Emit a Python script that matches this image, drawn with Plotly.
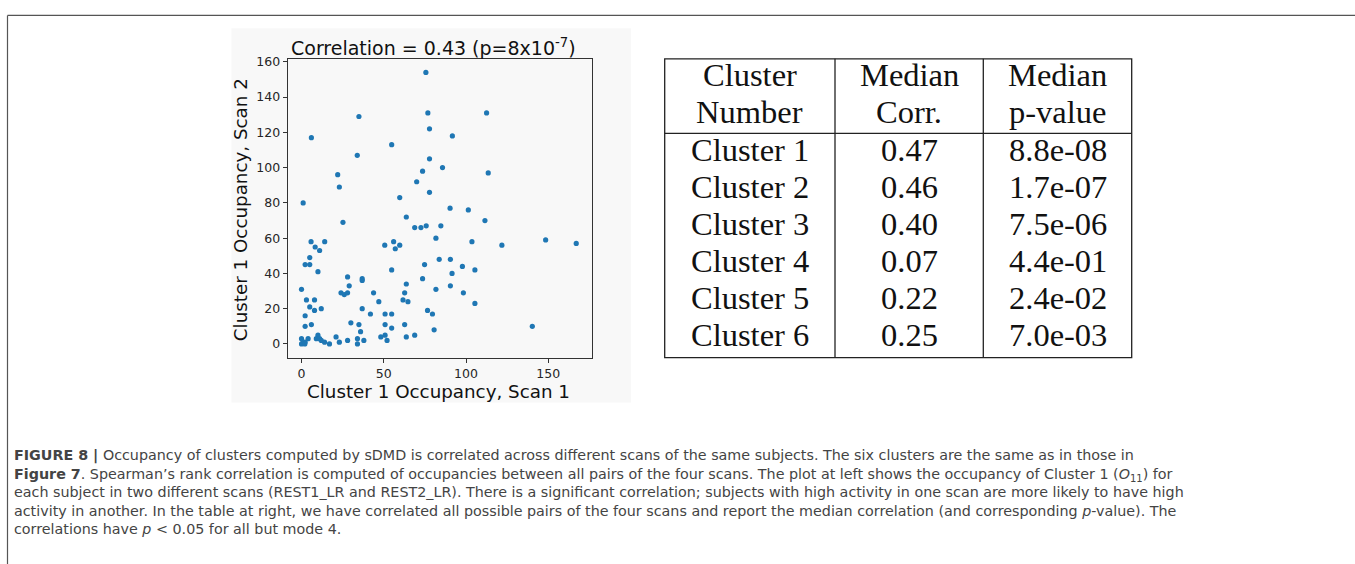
import plotly.graph_objects as go

W, H = 1355, 564

# ---- scatter data (Cluster 1 occupancy, scan 1 vs scan 2) ----
scan1 = [75.6, 76.8, 112.5, 34.9, 77.8, 6, 91.7, 54.8, 33.9, 77.8, 85.7, 22, 73.6, 113.5,
         23, 70, 77.8, 1, 59.7, 90.3, 101.4, 25.2, 63.7, 111.5, 68.8, 72.6, 75.8, 84.7,
         5.8, 14.1, 81.7, 103.6, 148.4, 167, 121.8, 50.6, 56, 57, 59.7, 8.3, 11, 5, 2.2, 5,
         10, 54.8, 74.8, 83.7, 90.5, 97.8, 91.5, 105.4, 28, 36.9, 36.9, 73.6, 0, 29, 63.7,
         90.5, 81.7, 24, 26, 28, 43.8, 62.7, 98.4, 3, 7.9, 47, 61.7, 64.7, 105.4, 5, 12,
         7.9, 36.9, 76.6, 79.6, 2.2, 41.9, 50.8, 54.8, 6, 30, 34.9, 50.8, 62.7, 140.3, 2.2,
         54.8, 80.6, 35.9, 50.8, 68.8, 63.7, 48.2, 21, 10, 9, 11, 4, 0, 34, 52, 37.9, 28,
         12, 14, 23, 1, 2.2, 17, 34, 0, 2]
scan2 = [154, 131, 131, 129, 122, 117, 118, 113, 107, 105, 100, 96, 98, 97,
         89, 92, 86, 80, 83, 77, 76, 69, 72, 70, 66, 66, 67, 67,
         58, 58, 60, 58, 59, 57, 56, 56, 58, 54, 56, 55, 53, 49, 45, 45,
         41, 42, 45, 48, 48, 44, 40, 42, 38, 37, 36, 37, 31, 33, 34,
         33, 31, 29, 28, 29, 29, 29, 29, 25, 25, 24, 25, 24, 23, 21, 20,
         19, 20, 19, 17, 16, 17, 17, 17, 11, 12, 11, 11, 11, 10, 10,
         9, 8, 7, 5, 5, 4, 4, 4, 5, 3, 3, 3, 3, 3, 2, 2, 2,
         2, 1, 1, 1, 1, 0, 0, 0, 0]

x_ticks = [0, 50, 100, 150]
y_ticks = [0, 20, 40, 60, 80, 100, 120, 140, 160]

# ---- table data ----
table_header = [["Cluster", "Number"], ["Median", "Corr."], ["Median", "p-value"]]
clusters = ["Cluster 1", "Cluster 2", "Cluster 3", "Cluster 4", "Cluster 5", "Cluster 6"]
median_corr = ["0.47", "0.46", "0.40", "0.07", "0.22", "0.25"]
median_p = ["8.8e-08", "1.7e-07", "7.5e-06", "4.4e-01", "2.4e-02", "7.0e-03"]

caption_lines = [
    "<b>FIGURE 8 |</b> Occupancy of clusters computed by sDMD is correlated across different scans of the same subjects. The six clusters are the same as in those in",
    "<b>Figure 7</b>. Spearman\u2019s rank correlation is computed of occupancies between all pairs of the four scans. The plot at left shows the occupancy of Cluster 1 (<i>O</i><sub>11</sub>) for",
    "each subject in two different scans (REST1_LR and REST2_LR). There is a significant correlation; subjects with high activity in one scan are more likely to have high",
    "activity in another. In the table at right, we have correlated all possible pairs of the four scans and report the median correlation (and corresponding <i>p</i>-value). The",
    "correlations have <i>p</i> &lt; 0.05 for all but mode 4.",
]


def px(x):
    return x / W


def py(y):
    return 1 - y / H


fig = go.Figure()
fig.add_trace(go.Scatter(
    x=scan1, y=scan2, mode="markers",
    marker=dict(color="#1f77b4", size=5.2, line=dict(width=0)),
    showlegend=False, hoverinfo="x+y"))

ax_font = dict(family="DejaVu Sans", size=12.5, color="#262626")
fig.update_xaxes(domain=[px(287.7), px(591.7)], range=[-8.4, 176.4],
                 tickvals=x_ticks, ticks="outside", ticklen=4, tickcolor="#333",
                 showline=True, linecolor="#333", linewidth=1.2, mirror=True,
                 showgrid=False, zeroline=False, tickfont=ax_font)
fig.update_yaxes(domain=[py(355.7), py(54.3)], range=[-7.7, 161.7],
                 tickvals=y_ticks, ticks="outside", ticklen=4, tickcolor="#333",
                 showline=True, linecolor="#333", linewidth=1.2, mirror=True,
                 showgrid=False, zeroline=False, tickfont=ax_font)

shapes = []
ann = []

# Plot image background
shapes.append(dict(type="rect", xref="paper", yref="paper", layer="below",
                   x0=px(231.5), x1=px(631), y0=py(401), y1=py(23.5),
                   fillcolor="#f8f8f8", line=dict(width=0)))
# Outer frame (left + top edges)
shapes.append(dict(type="line", xref="paper", yref="paper",
                   x0=px(7.5), x1=px(7.5), y0=0, y1=py(10.5),
                   line=dict(color="#555", width=1.2)))
shapes.append(dict(type="line", xref="paper", yref="paper",
                   x0=px(7.5), x1=1, y0=py(10.5), y1=py(10.5),
                   line=dict(color="#555", width=1.2)))

lab_font = dict(family="DejaVu Sans", size=18.3, color="#111")
ann.append(dict(text="Correlation = 0.43 (p=8x10<sup>-7</sup>)", xref="paper", yref="paper",
                x=px(433), y=py(42), xanchor="center", yanchor="middle",
                showarrow=False, font=dict(family="DejaVu Sans", size=19, color="#111")))
ann.append(dict(text="Cluster 1 Occupancy, Scan 1", xref="paper", yref="paper",
                x=px(438), y=py(390), xanchor="center", yanchor="middle",
                showarrow=False, font=lab_font))
ann.append(dict(text="Cluster 1 Occupancy, Scan 2", xref="paper", yref="paper",
                x=px(240), y=py(206), xanchor="center", yanchor="middle",
                textangle=-90, showarrow=False, font=lab_font))

# ---- table ----
tl, tr, tt, tb = 664.7, 1131.7, 54.3, 355.7
col_div = [835, 983.3]
head_div = 129.5
lc = dict(color="#222", width=1.3)
shapes.append(dict(type="rect", xref="paper", yref="paper",
                   x0=px(tl), x1=px(tr), y0=py(tb), y1=py(tt), line=lc))
for c in col_div:
    shapes.append(dict(type="line", xref="paper", yref="paper",
                       x0=px(c), x1=px(c), y0=py(tb), y1=py(tt), line=lc))
shapes.append(dict(type="line", xref="paper", yref="paper",
                   x0=px(tl), x1=px(tr), y0=py(head_div), y1=py(head_div), line=lc))

col_centers = [749.8, 909, 1057.5]
tab_font = dict(family="Liberation Serif", size=32.5, color="#111")
header_y = [71, 108]
row_y = [146.7, 183.3, 220.7, 258.3, 295.7, 332.5]
for ci, hdr in enumerate(table_header):
    for li, t in enumerate(hdr):
        ann.append(dict(text=t, xref="paper", yref="paper", x=px(col_centers[ci]),
                        y=py(header_y[li]), xanchor="center", yanchor="middle",
                        showarrow=False, font=tab_font))
for ri in range(len(clusters)):
    for ci, col in enumerate([clusters, median_corr, median_p]):
        ann.append(dict(text=col[ri], xref="paper", yref="paper", x=px(col_centers[ci]),
                        y=py(row_y[ri]), xanchor="center", yanchor="middle",
                        showarrow=False, font=tab_font))

# ---- caption (one text block; line pitch = 1.3 x font size) ----
cap_font = dict(family="DejaVu Sans", size=14.3, color="#444")
ann.append(dict(text="<br>".join(caption_lines), xref="paper", yref="paper",
                x=px(12), y=py(491), xanchor="left", yanchor="middle", align="left",
                showarrow=False, font=cap_font))

fig.update_layout(width=W, height=H, margin=dict(l=0, r=0, t=0, b=0),
                  paper_bgcolor="white", plot_bgcolor="#f8f8f8",
                  shapes=shapes, annotations=ann)

fig.write_html("out.html")
